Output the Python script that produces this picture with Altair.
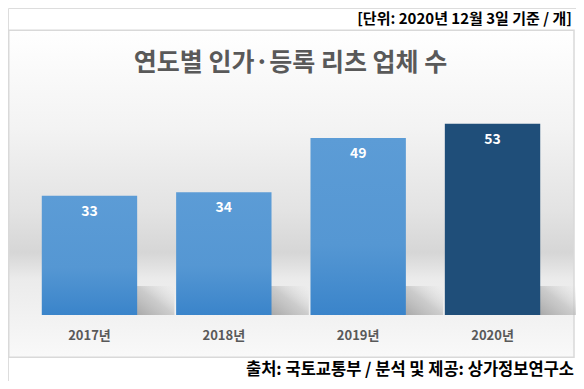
import altair as alt
import pandas as pd

years = ["2017년", "2018년", "2019년", "2020년"]
counts = [33, 34, 49, 53]
highlight = [False, False, False, True]

title_text = "연도별 인가·등록 리츠 업체 수"
unit_text = "[단위: 2020년 12월 3일 기준 / 개]"
source_text = "출처: 국토교통부 / 분석 및 제공: 상가정보연구소"

df = pd.DataFrame({"year": years, "count": counts, "hl": highlight})

FONT = "Noto Sans CJK KR"
W, H = 568, 373

xscale = alt.Scale(domain=years, range=[14.3, 551.7], paddingInner=0.29, paddingOuter=0.145)
yscale = alt.Scale(domain=[0, 60], range=[307, 90.4])
X = alt.X("year:N", scale=xscale, axis=None, sort=years)
Y = alt.Y("count:Q", scale=yscale, axis=None)

one = alt.Data(values=[{"a": 1}])

bg_grad = {
    "gradient": "linear", "x1": 0, "y1": 0, "x2": 0, "y2": 1,
    "stops": [
        {"offset": 0, "color": "#ffffff"},
        {"offset": 0.3, "color": "#f3f3f3"},
        {"offset": 0.55, "color": "#e3e3e3"},
        {"offset": 0.68, "color": "#d6d6d6"},
        {"offset": 0.76, "color": "#ebebeb"},
        {"offset": 1, "color": "#f9f9f9"},
    ],
}
background = alt.Chart(one).mark_rect(fill=bg_grad, stroke="#d9d9d9", strokeWidth=1.5).encode(
    x=alt.value(0.75), x2=alt.value(566), y=alt.value(22.3), y2=alt.value(349.3)
)

shadow_grad = {
    "gradient": "linear", "x1": 0, "y1": 1, "x2": 1, "y2": 0,
    "stops": [
        {"offset": 0, "color": "rgba(160,160,160,0.9)"},
        {"offset": 0.5, "color": "rgba(180,180,180,0.6)"},
        {"offset": 1, "color": "rgba(220,220,220,0)"},
    ],
}
shadows = alt.Chart(df).mark_bar(fill=shadow_grad, width=38, xOffset=66).encode(
    x=X, y=alt.Y("s:Q", scale=yscale, axis=None), y2=alt.datum(0)
).transform_calculate(s="8")

bar_grad = {
    "gradient": "linear", "x1": 0, "y1": 0, "x2": 0, "y2": 1,
    "stops": [
        {"offset": 0, "color": "#5c9cd6"},
        {"offset": 0.6, "color": "#5597d3"},
        {"offset": 1, "color": "#3a84ca"},
    ],
}
bars_light = alt.Chart(df).transform_filter("!datum.hl").mark_bar(fill=bar_grad).encode(x=X, y=Y)
bars_dark = alt.Chart(df).transform_filter("datum.hl").mark_bar(fill="#1f4e79").encode(x=X, y=Y)

values = alt.Chart(df).mark_text(
    font=FONT, fontSize=14, fontWeight="bold", color="white", dy=16, baseline="middle"
).encode(x=X, y=Y, text="count:Q")

xlabels = alt.Chart(df).mark_text(
    font=FONT, fontSize=13, fontWeight="bold", color="#595959", baseline="middle"
).encode(x=X, y=alt.value(328), text="year:N")

title = alt.Chart(one).mark_text(
    text=title_text, font=FONT, fontSize=25, fontWeight="bold", color="#595959",
    align="center", baseline="middle"
).encode(x=alt.value(282.5), y=alt.value(55))

unit = alt.Chart(one).mark_text(
    text=unit_text, font=FONT, fontSize=15, fontWeight="bold", color="#000000",
    align="right", baseline="middle"
).encode(x=alt.value(564), y=alt.value(11))

source = alt.Chart(one).mark_text(
    text=source_text, font=FONT, fontSize=16.5, fontWeight="bold", color="#000000",
    align="right", baseline="middle"
).encode(x=alt.value(566), y=alt.value(362))

chart = alt.layer(
    background, shadows, bars_light, bars_dark, values, xlabels, title, unit, source
).properties(
    width=W, height=H, padding=0, autosize="none"
).configure_view(stroke=None).configure(background="white")

chart.save("out.html", embed_options={"renderer": "svg", "actions": False})
